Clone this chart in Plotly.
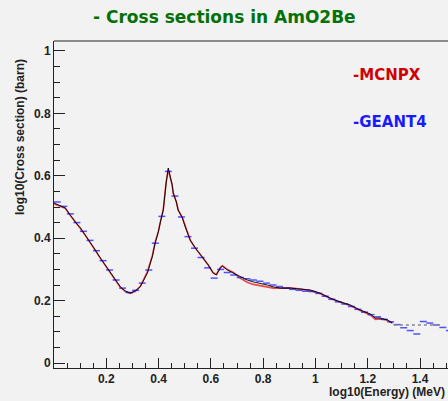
import plotly.graph_objects as go

# log10(E/MeV) and log10(sigma/barn) for the three evaluations
black_x = [0.000, 0.043, 0.062, 0.081, 0.101, 0.120, 0.139, 0.158, 0.177, 0.196,
           0.215, 0.234, 0.254, 0.273, 0.292, 0.311, 0.330, 0.357, 0.376, 0.387,
           0.399, 0.407, 0.418, 0.429, 0.437, 0.452, 0.456, 0.468, 0.475, 0.491,
           0.502, 0.521, 0.540, 0.567, 0.590, 0.609, 0.621, 0.636, 0.644, 0.663,
           0.686, 0.712, 0.739, 0.762, 0.789, 0.816, 0.839, 0.865, 0.904, 0.942,
           0.980, 1.018, 1.057, 1.095, 1.133, 1.171, 1.210, 1.229, 1.248, 1.275, 1.294]
black_y = [0.513, 0.497, 0.474, 0.452, 0.433, 0.410, 0.388, 0.362, 0.337, 0.314,
           0.292, 0.266, 0.244, 0.231, 0.224, 0.231, 0.244, 0.288, 0.340, 0.385,
           0.420, 0.452, 0.490, 0.577, 0.625, 0.571, 0.545, 0.516, 0.490, 0.465,
           0.436, 0.394, 0.369, 0.340, 0.314, 0.288, 0.282, 0.304, 0.311, 0.298,
           0.288, 0.276, 0.266, 0.260, 0.256, 0.250, 0.244, 0.240, 0.240, 0.237,
           0.234, 0.224, 0.208, 0.196, 0.186, 0.170, 0.157, 0.144, 0.144, 0.138, 0.128]
black_tail_x = [1.300, 1.480]
black_tail_y = [0.122, 0.122]

mcnpx_x = black_x
mcnpx_y = [0.510, 0.496, 0.474, 0.451, 0.431, 0.409, 0.387, 0.361, 0.336, 0.313,
           0.291, 0.265, 0.242, 0.229, 0.223, 0.230, 0.246, 0.292, 0.344, 0.387,
           0.421, 0.453, 0.492, 0.580, 0.620, 0.570, 0.545, 0.516, 0.490, 0.466,
           0.437, 0.394, 0.369, 0.341, 0.314, 0.289, 0.284, 0.306, 0.312, 0.300,
           0.290, 0.272, 0.259, 0.252, 0.248, 0.244, 0.240, 0.240, 0.241, 0.237,
           0.232, 0.223, 0.207, 0.195, 0.184, 0.168, 0.154, 0.140, 0.141, 0.137, 0.128]

geant4_x = [0.0125 + 0.025 * i for i in range(61)]
geant4_y = [0.516, 0.502, 0.478, 0.450, 0.422, 0.393, 0.360, 0.328, 0.298, 0.266,
            0.240, 0.226, 0.233, 0.256, 0.298, 0.384, 0.470, 0.614, 0.535, 0.468,
            0.405, 0.368, 0.338, 0.305, 0.272, 0.300, 0.290, 0.282, 0.274, 0.270,
            0.266, 0.262, 0.256, 0.250, 0.245, 0.240, 0.236, 0.233, 0.230, 0.229,
            0.223, 0.214, 0.204, 0.196, 0.189, 0.181, 0.172, 0.163, 0.155, 0.148,
            0.140, 0.132, 0.123, 0.113, 0.104, 0.093, 0.133, 0.128, 0.122, 0.114, 0.104]

x_ticks = [0.2, 0.4, 0.6, 0.8, 1.0, 1.2, 1.4]
x_labels = ["0.2", "0.4", "0.6", "0.8", "1", "1.2", "1.4"]
y_ticks = [0, 0.2, 0.4, 0.6, 0.8, 1.0]
y_labels = ["0", "0.2", "0.4", "0.6", "0.8", "1"]

BG = "#f2f2f2"
AX = "#222222"

fig = go.Figure()
fig.add_trace(go.Scatter(x=mcnpx_x, y=mcnpx_y, mode="lines",
                         line=dict(color="rgba(235,0,0,0.7)", width=1.6)))
fig.add_trace(go.Scatter(x=geant4_x, y=geant4_y, mode="markers",
                         marker=dict(symbol="line-ew", size=5,
                                     line=dict(color="rgba(30,30,255,0.75)", width=1.5))))
fig.add_trace(go.Scatter(x=black_x, y=black_y, mode="lines",
                         line=dict(color="black", width=0.9)))
fig.add_trace(go.Scatter(x=black_tail_x, y=black_tail_y, mode="lines",
                         line=dict(color="#888888", width=1.5, dash="dot")))

axis_font = dict(family="Liberation Sans, Arial", size=12, color=AX, weight="bold")

fig.update_xaxes(range=[0, 1.507], showgrid=False, zeroline=False,
                 showline=True, linecolor=AX, linewidth=1, mirror=False,
                 ticks="inside", ticklen=10, tickcolor=AX, tickwidth=1,
                 tickvals=x_ticks, ticktext=x_labels, tickfont=axis_font,
                 minor=dict(ticks="inside", ticklen=5, dtick=0.05, tick0=0,
                            tickcolor=AX, tickwidth=1))
fig.update_yaxes(range=[-0.016, 1.032], showgrid=False, zeroline=False,
                 showline=True, linecolor=AX, linewidth=1,
                 ticks="inside", ticklen=11, tickcolor=AX, tickwidth=1,
                 tickvals=y_ticks, ticktext=y_labels, tickfont=axis_font,
                 minor=dict(ticks="inside", ticklen=6, dtick=0.05, tick0=0,
                            tickcolor=AX, tickwidth=1))

# top frame edge
fig.add_shape(type="line", xref="paper", yref="paper", x0=0, x1=1, y0=1, y1=1,
              line=dict(color=AX, width=1))

fig.add_annotation(text="- Cross sections in AmO2Be", xref="paper", yref="paper",
                   x=(224 - 54) / 394, y=(368 - 17) / 327, showarrow=False,
                   xanchor="center", yanchor="middle",
                   font=dict(family="DejaVu Sans", size=17, color="#057005", weight="bold"))
fig.add_annotation(text="-MCNPX", xref="paper", yref="paper",
                   x=(351 - 54) / 394, y=(368 - 75) / 327, showarrow=False,
                   xanchor="left", yanchor="middle",
                   font=dict(family="DejaVu Sans", size=15, color="#d00000", weight="bold"))
fig.add_annotation(text="-GEANT4", xref="paper", yref="paper",
                   x=(351 - 54) / 394, y=(368 - 122) / 327, showarrow=False,
                   xanchor="left", yanchor="middle",
                   font=dict(family="DejaVu Sans", size=15, color="#1a1aff", weight="bold"))
fig.add_annotation(text="log10(Cross section) (barn)", xref="paper", yref="paper",
                   x=(20 - 54) / 394, y=(368 - 137) / 327, showarrow=False,
                   textangle=-90, xanchor="center", yanchor="middle",
                   font=dict(family="Liberation Sans, Arial", size=12, color=AX, weight="bold"))
fig.add_annotation(text="log10(Energy) (MeV)", xref="paper", yref="paper",
                   x=(447 - 54) / 394, y=(368 - 392) / 327, showarrow=False,
                   xanchor="right", yanchor="middle",
                   font=dict(family="Liberation Sans, Arial", size=12, color=AX, weight="bold"))

fig.update_layout(width=448, height=401, showlegend=False,
                  margin=dict(l=54, r=0, t=41, b=33),
                  paper_bgcolor=BG, plot_bgcolor=BG)

fig.write_html("out.html")
